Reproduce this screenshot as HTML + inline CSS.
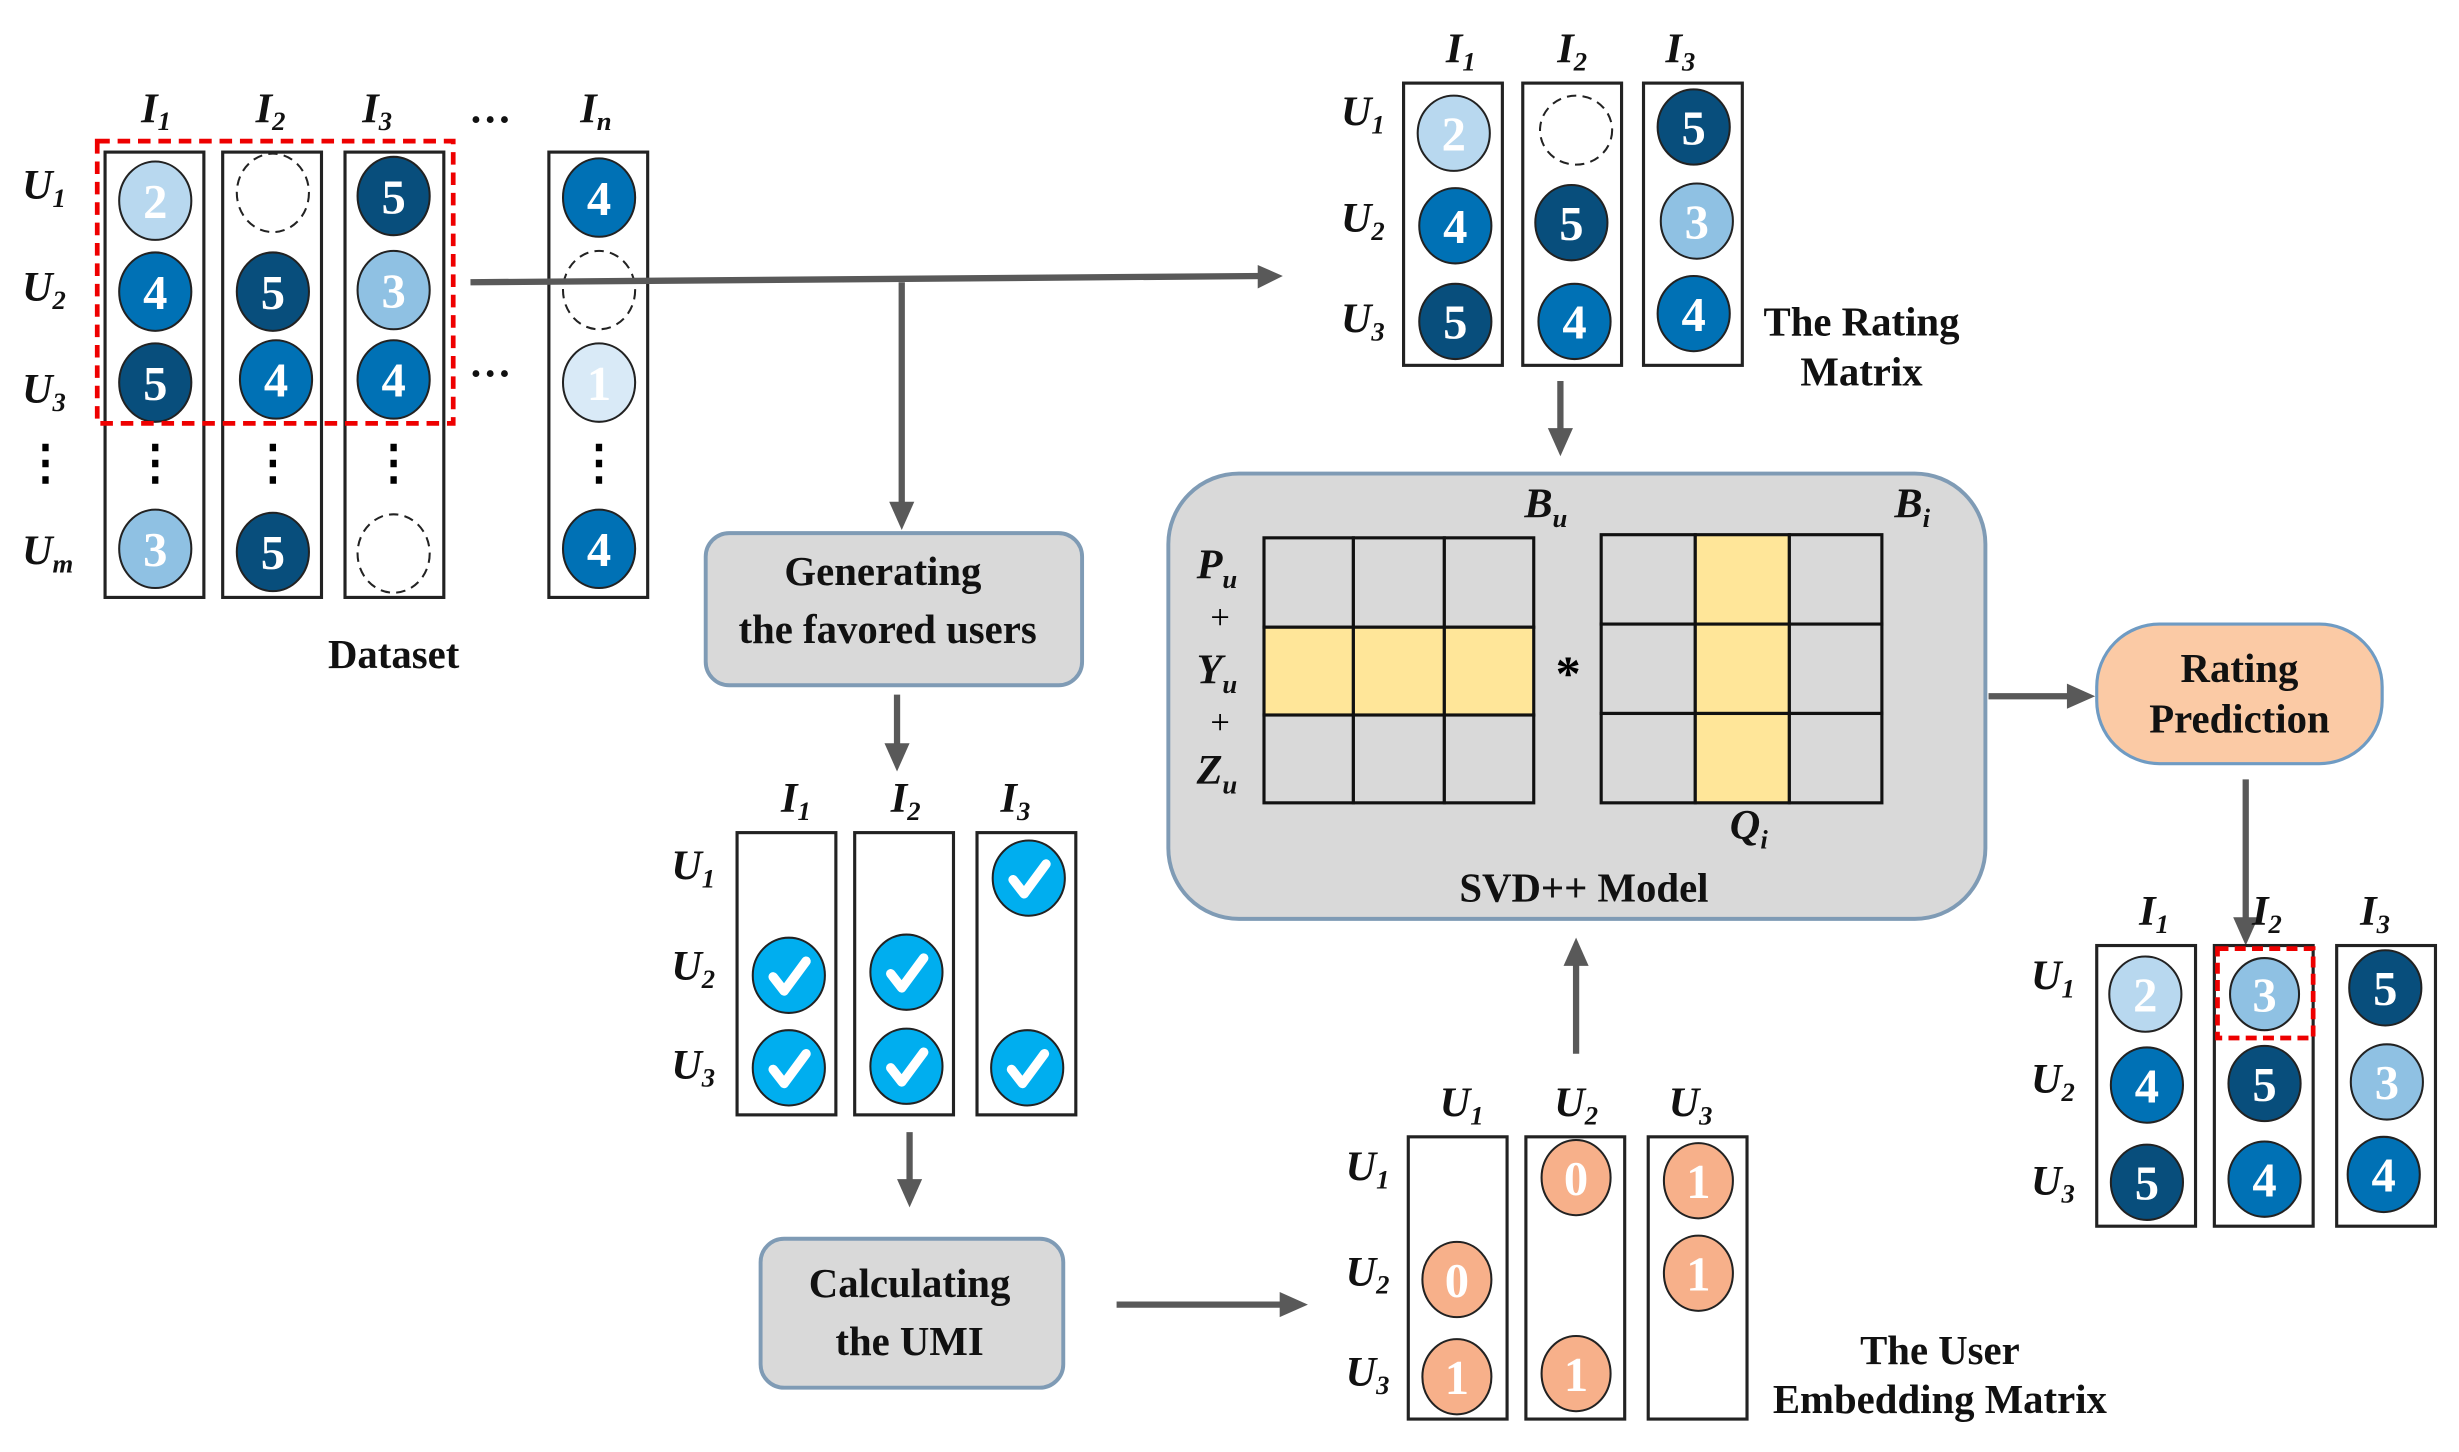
<!DOCTYPE html>
<html><head><meta charset="utf-8"><style>
html,body{margin:0;padding:0;background:#fff;}
svg{display:block;}
text{font-family:"Liberation Serif",serif;}
.n{fill:#fff;font-size:31px;font-weight:bold;text-anchor:middle;}
.lb{font-size:27px;font-weight:bold;font-style:italic;fill:#111;}
.sb{font-size:17px;font-style:italic;font-weight:bold;}
.t{font-size:26px;font-weight:bold;text-anchor:middle;fill:#111;}
.bx{fill:#fff;stroke:#222;stroke-width:2;}
.c{stroke:#222;stroke-width:1.3;}
.e{fill:#fff;stroke:#222;stroke-width:1.3;stroke-dasharray:6,4;}
.ar{stroke:#595959;stroke-width:4;fill:none;}
.ah{fill:#595959;}
.cell{fill:#d9d9d9;stroke:#111;stroke-width:2;}
.y{fill:#ffe699;stroke:#111;stroke-width:2;}
</style></head><body>
<svg width="2459" height="1452" viewBox="0 0 1568 926" preserveAspectRatio="none" xmlns="http://www.w3.org/2000/svg" font-family="Liberation Serif, serif">
<defs>
<g id="ck"><ellipse rx="23" ry="24" fill="#00aeef" stroke="#222" stroke-width="1.3"/><path d="M-10,1 L-3,10 L11,-9" stroke="#fff" stroke-width="6" fill="none" stroke-linecap="round" stroke-linejoin="round"/></g>
</defs>

<text class="lb" x="90" y="78">I<tspan class="sb" dy="5">1</tspan></text>
<text class="lb" x="163" y="78">I<tspan class="sb" dy="5">2</tspan></text>
<text class="lb" x="231" y="78">I<tspan class="sb" dy="5">3</tspan></text>
<text class="lb" x="300" y="78">…</text>
<text class="lb" x="370" y="78">I<tspan class="sb" dy="5">n</tspan></text>
<text class="lb" x="14" y="127">U<tspan class="sb" dy="5">1</tspan></text>
<text class="lb" x="14" y="192">U<tspan class="sb" dy="5">2</tspan></text>
<text class="lb" x="14" y="257">U<tspan class="sb" dy="5">3</tspan></text>
<text class="lb" x="14" y="360">U<tspan class="sb" dy="5">m</tspan></text>
<text class="lb" x="300" y="240">…</text>
<rect class="bx" x="67" y="97" width="63" height="284"/>
<rect class="bx" x="142" y="97" width="63" height="284"/>
<rect class="bx" x="220" y="97" width="63" height="284"/>
<rect class="bx" x="350" y="97" width="63" height="284"/>
<g font-size="30" font-weight="bold" text-anchor="middle">
<text x="29" y="305">⋮</text><text x="99" y="305">⋮</text><text x="174" y="305">⋮</text><text x="251" y="305">⋮</text><text x="382" y="305">⋮</text>
</g>
<ellipse class="c" cx="99" cy="128" rx="23" ry="25" fill="#b8d8ef"/><text class="n" x="99" y="139">2</text>
<ellipse class="e" cx="174" cy="123" rx="23" ry="25"/>
<ellipse class="c" cx="251" cy="125" rx="23" ry="25" fill="#084e7c"/><text class="n" x="251" y="136">5</text>
<ellipse class="c" cx="382" cy="126" rx="23" ry="25" fill="#0071b5"/><text class="n" x="382" y="137">4</text>

<ellipse class="c" cx="99" cy="186" rx="23" ry="25" fill="#0071b5"/><text class="n" x="99" y="197">4</text>
<ellipse class="c" cx="174" cy="186" rx="23" ry="25" fill="#084e7c"/><text class="n" x="174" y="197">5</text>
<ellipse class="c" cx="251" cy="185" rx="23" ry="25" fill="#8fc1e3"/><text class="n" x="251" y="196">3</text>
<ellipse class="e" cx="382" cy="185" rx="23" ry="25"/>

<ellipse class="c" cx="99" cy="244" rx="23" ry="25" fill="#084e7c"/><text class="n" x="99" y="255">5</text>
<ellipse class="c" cx="176" cy="242" rx="23" ry="25" fill="#0071b5"/><text class="n" x="176" y="253">4</text>
<ellipse class="c" cx="251" cy="242" rx="23" ry="25" fill="#0071b5"/><text class="n" x="251" y="253">4</text>
<ellipse class="c" cx="382" cy="244" rx="23" ry="25" fill="#d9eaf7"/><text class="n" x="382" y="255">1</text>

<ellipse class="c" cx="99" cy="350" rx="23" ry="25" fill="#8fc1e3"/><text class="n" x="99" y="361">3</text>
<ellipse class="c" cx="174" cy="352" rx="23" ry="25" fill="#084e7c"/><text class="n" x="174" y="363">5</text>
<ellipse class="e" cx="251" cy="353" rx="23" ry="25"/>
<ellipse class="c" cx="382" cy="350" rx="23" ry="25" fill="#0071b5"/><text class="n" x="382" y="361">4</text>
<rect x="62" y="90" width="227" height="180" fill="none" stroke="#e00" stroke-width="3" stroke-dasharray="8,5"/>
<text class="t" x="251" y="426">Dataset</text>

<path class="ar" d="M300,180 L806,176"/><polygon class="ah" points="818,176 802,169 802,184"/>
<path class="ar" d="M575,180 L575,324"/><polygon class="ah" points="575,338 567,320 583,320"/>

<rect x="450" y="340" width="240" height="97" rx="15" fill="#d9d9d9" stroke="#7f9bb5" stroke-width="2.5"/>
<text class="t" x="563" y="373">Generating</text>
<text class="t" x="566" y="410">the favored users</text>
<path class="ar" d="M572,443 L572,478"/><polygon class="ah" points="572,492 564,474 580,474"/>

<text class="lb" x="498" y="518">I<tspan class="sb" dy="5">1</tspan></text>
<text class="lb" x="568" y="518">I<tspan class="sb" dy="5">2</tspan></text>
<text class="lb" x="638" y="518">I<tspan class="sb" dy="5">3</tspan></text>
<text class="lb" x="428" y="561">U<tspan class="sb" dy="5">1</tspan></text>
<text class="lb" x="428" y="625">U<tspan class="sb" dy="5">2</tspan></text>
<text class="lb" x="428" y="688">U<tspan class="sb" dy="5">3</tspan></text>
<rect class="bx" x="470" y="531" width="63" height="180"/>
<rect class="bx" x="545" y="531" width="63" height="180"/>
<rect class="bx" x="623" y="531" width="63" height="180"/>
<use href="#ck" x="656" y="560"/>
<use href="#ck" x="503" y="622"/><use href="#ck" x="578" y="620"/>
<use href="#ck" x="503" y="681"/><use href="#ck" x="578" y="680"/><use href="#ck" x="655" y="681"/>
<path class="ar" d="M580,722 L580,756"/><polygon class="ah" points="580,770 572,752 588,752"/>

<rect x="485" y="790" width="193" height="95" rx="15" fill="#d9d9d9" stroke="#7f9bb5" stroke-width="2.5"/>
<text class="t" x="580" y="827">Calculating</text>
<text class="t" x="580" y="864">the  UMI</text>
<path class="ar" d="M712,832 L820,832"/><polygon class="ah" points="834,832 816,824 816,840"/>

<text class="lb" x="918" y="712">U<tspan class="sb" dy="5">1</tspan></text>
<text class="lb" x="991" y="712">U<tspan class="sb" dy="5">2</tspan></text>
<text class="lb" x="1064" y="712">U<tspan class="sb" dy="5">3</tspan></text>
<text class="lb" x="858" y="753">U<tspan class="sb" dy="5">1</tspan></text>
<text class="lb" x="858" y="820">U<tspan class="sb" dy="5">2</tspan></text>
<text class="lb" x="858" y="884">U<tspan class="sb" dy="5">3</tspan></text>
<rect class="bx" x="898" y="725" width="63" height="180"/>
<rect class="bx" x="973" y="725" width="63" height="180"/>
<rect class="bx" x="1051" y="725" width="63" height="180"/>
<g fill="#f7b08a">
<ellipse class="c" cx="1005" cy="751" rx="22" ry="24"/><ellipse class="c" cx="1083" cy="753" rx="22" ry="24"/>
<ellipse class="c" cx="929" cy="816" rx="22" ry="24"/><ellipse class="c" cx="1083" cy="812" rx="22" ry="24"/>
<ellipse class="c" cx="929" cy="878" rx="22" ry="24"/><ellipse class="c" cx="1005" cy="876" rx="22" ry="24"/>
</g>
<text class="n" x="1005" y="762">0</text><text class="n" x="1083" y="764">1</text>
<text class="n" x="929" y="827">0</text><text class="n" x="1083" y="823">1</text>
<text class="n" x="929" y="889">1</text><text class="n" x="1005" y="887">1</text>
<text class="t" x="1237" y="870" font-size="25">The User</text>
<text class="t" x="1237" y="901" font-size="25">Embedding Matrix</text>
<path class="ar" d="M1005,672 L1005,612"/><polygon class="ah" points="1005,598 997,616 1013,616"/>

<rect x="745" y="302" width="521" height="284" rx="45" fill="#d9d9d9" stroke="#7f9bb5" stroke-width="2.5"/>
<rect class="cell" x="806" y="343" width="57" height="57"/><rect class="cell" x="863" y="343" width="58" height="57"/><rect class="cell" x="921" y="343" width="57" height="57"/>
<rect class="y" x="806" y="400" width="57" height="56"/><rect class="y" x="863" y="400" width="58" height="56"/><rect class="y" x="921" y="400" width="57" height="56"/>
<rect class="cell" x="806" y="456" width="57" height="56"/><rect class="cell" x="863" y="456" width="58" height="56"/><rect class="cell" x="921" y="456" width="57" height="56"/>
<rect class="cell" x="1021" y="341" width="60" height="57"/><rect class="y" x="1081" y="341" width="60" height="57"/><rect class="cell" x="1141" y="341" width="59" height="57"/>
<rect class="cell" x="1021" y="398" width="60" height="57"/><rect class="y" x="1081" y="398" width="60" height="57"/><rect class="cell" x="1141" y="398" width="59" height="57"/>
<rect class="cell" x="1021" y="455" width="60" height="57"/><rect class="y" x="1081" y="455" width="60" height="57"/><rect class="cell" x="1141" y="455" width="59" height="57"/>
<text class="lb" x="763" y="369">P<tspan class="sb" dy="6">u</tspan></text>
<text x="778" y="401" font-size="22" text-anchor="middle">+</text>
<text class="lb" x="763" y="436">Y<tspan class="sb" dy="6">u</tspan></text>
<text x="778" y="468" font-size="22" text-anchor="middle">+</text>
<text class="lb" x="763" y="500">Z<tspan class="sb" dy="6">u</tspan></text>
<text x="1000" y="440" font-size="32" font-weight="bold" text-anchor="middle">*</text>
<text class="lb" x="972" y="330">B<tspan class="sb" dy="6">u</tspan></text>
<text class="lb" x="1208" y="330">B<tspan class="sb" dy="6">i</tspan></text>
<text class="lb" x="1103" y="535">Q<tspan class="sb" dy="6">i</tspan></text>
<text class="t" x="1010" y="575" font-size="23">SVD++ Model</text>

<text class="lb" x="922" y="40">I<tspan class="sb" dy="5">1</tspan></text>
<text class="lb" x="993" y="40">I<tspan class="sb" dy="5">2</tspan></text>
<text class="lb" x="1062" y="40">I<tspan class="sb" dy="5">3</tspan></text>
<text class="lb" x="855" y="80">U<tspan class="sb" dy="5">1</tspan></text>
<text class="lb" x="855" y="148">U<tspan class="sb" dy="5">2</tspan></text>
<text class="lb" x="855" y="212">U<tspan class="sb" dy="5">3</tspan></text>
<rect class="bx" x="895" y="53" width="63" height="180"/>
<rect class="bx" x="971" y="53" width="63" height="180"/>
<rect class="bx" x="1048" y="53" width="63" height="180"/>
<ellipse class="c" cx="927" cy="85" rx="23" ry="24" fill="#b8d8ef"/><text class="n" x="927" y="96">2</text>
<ellipse class="e" cx="1005" cy="83" rx="23" ry="22"/>
<ellipse class="c" cx="1080" cy="81" rx="23" ry="24" fill="#084e7c"/><text class="n" x="1080" y="92">5</text>
<ellipse class="c" cx="928" cy="144" rx="23" ry="24" fill="#0071b5"/><text class="n" x="928" y="155">4</text>
<ellipse class="c" cx="1002" cy="142" rx="23" ry="24" fill="#084e7c"/><text class="n" x="1002" y="153">5</text>
<ellipse class="c" cx="1082" cy="141" rx="23" ry="24" fill="#8fc1e3"/><text class="n" x="1082" y="152">3</text>
<ellipse class="c" cx="928" cy="205" rx="23" ry="24" fill="#084e7c"/><text class="n" x="928" y="216">5</text>
<ellipse class="c" cx="1004" cy="205" rx="23" ry="24" fill="#0071b5"/><text class="n" x="1004" y="216">4</text>
<ellipse class="c" cx="1080" cy="200" rx="23" ry="24" fill="#0071b5"/><text class="n" x="1080" y="211">4</text>
<text class="t" x="1187" y="214" font-size="25">The Rating</text>
<text class="t" x="1187" y="246" font-size="25">Matrix</text>
<path class="ar" d="M995,243 L995,277"/><polygon class="ah" points="995,291 987,273 1003,273"/>

<path class="ar" d="M1268,444 L1322,444"/><polygon class="ah" points="1336,444 1318,436 1318,452"/>
<rect x="1337" y="398" width="182" height="89" rx="40" fill="#fbcaa5" stroke="#6f9bc3" stroke-width="2"/>
<text class="t" x="1428" y="435" font-size="24">Rating</text>
<text class="t" x="1428" y="467" font-size="24">Prediction</text>
<path class="ar" d="M1432,497 L1432,588"/><polygon class="ah" points="1432,603 1424,585 1440,585"/>

<text class="lb" x="1364" y="590">I<tspan class="sb" dy="5">1</tspan></text>
<text class="lb" x="1436" y="590">I<tspan class="sb" dy="5">2</tspan></text>
<text class="lb" x="1505" y="590">I<tspan class="sb" dy="5">3</tspan></text>
<text class="lb" x="1295" y="631">U<tspan class="sb" dy="5">1</tspan></text>
<text class="lb" x="1295" y="697">U<tspan class="sb" dy="5">2</tspan></text>
<text class="lb" x="1295" y="762">U<tspan class="sb" dy="5">3</tspan></text>
<rect class="bx" x="1337" y="603" width="63" height="179"/>
<rect class="bx" x="1412" y="603" width="63" height="179"/>
<rect class="bx" x="1490" y="603" width="63" height="179"/>
<ellipse class="c" cx="1368" cy="634" rx="23" ry="24" fill="#b8d8ef"/><text class="n" x="1368" y="645">2</text>
<ellipse class="c" cx="1444" cy="634" rx="22" ry="23" fill="#8fc1e3"/><text class="n" x="1444" y="645">3</text>
<ellipse class="c" cx="1521" cy="630" rx="23" ry="24" fill="#084e7c"/><text class="n" x="1521" y="641">5</text>
<ellipse class="c" cx="1369" cy="692" rx="23" ry="24" fill="#0071b5"/><text class="n" x="1369" y="703">4</text>
<ellipse class="c" cx="1444" cy="691" rx="23" ry="24" fill="#084e7c"/><text class="n" x="1444" y="702">5</text>
<ellipse class="c" cx="1522" cy="690" rx="23" ry="24" fill="#8fc1e3"/><text class="n" x="1522" y="701">3</text>
<ellipse class="c" cx="1369" cy="754" rx="23" ry="24" fill="#084e7c"/><text class="n" x="1369" y="765">5</text>
<ellipse class="c" cx="1444" cy="752" rx="23" ry="24" fill="#0071b5"/><text class="n" x="1444" y="763">4</text>
<ellipse class="c" cx="1520" cy="749" rx="23" ry="24" fill="#0071b5"/><text class="n" x="1520" y="760">4</text>
<rect x="1414" y="605" width="61" height="57" fill="none" stroke="#e00" stroke-width="3" stroke-dasharray="7,4"/>
</svg>
</body></html>
